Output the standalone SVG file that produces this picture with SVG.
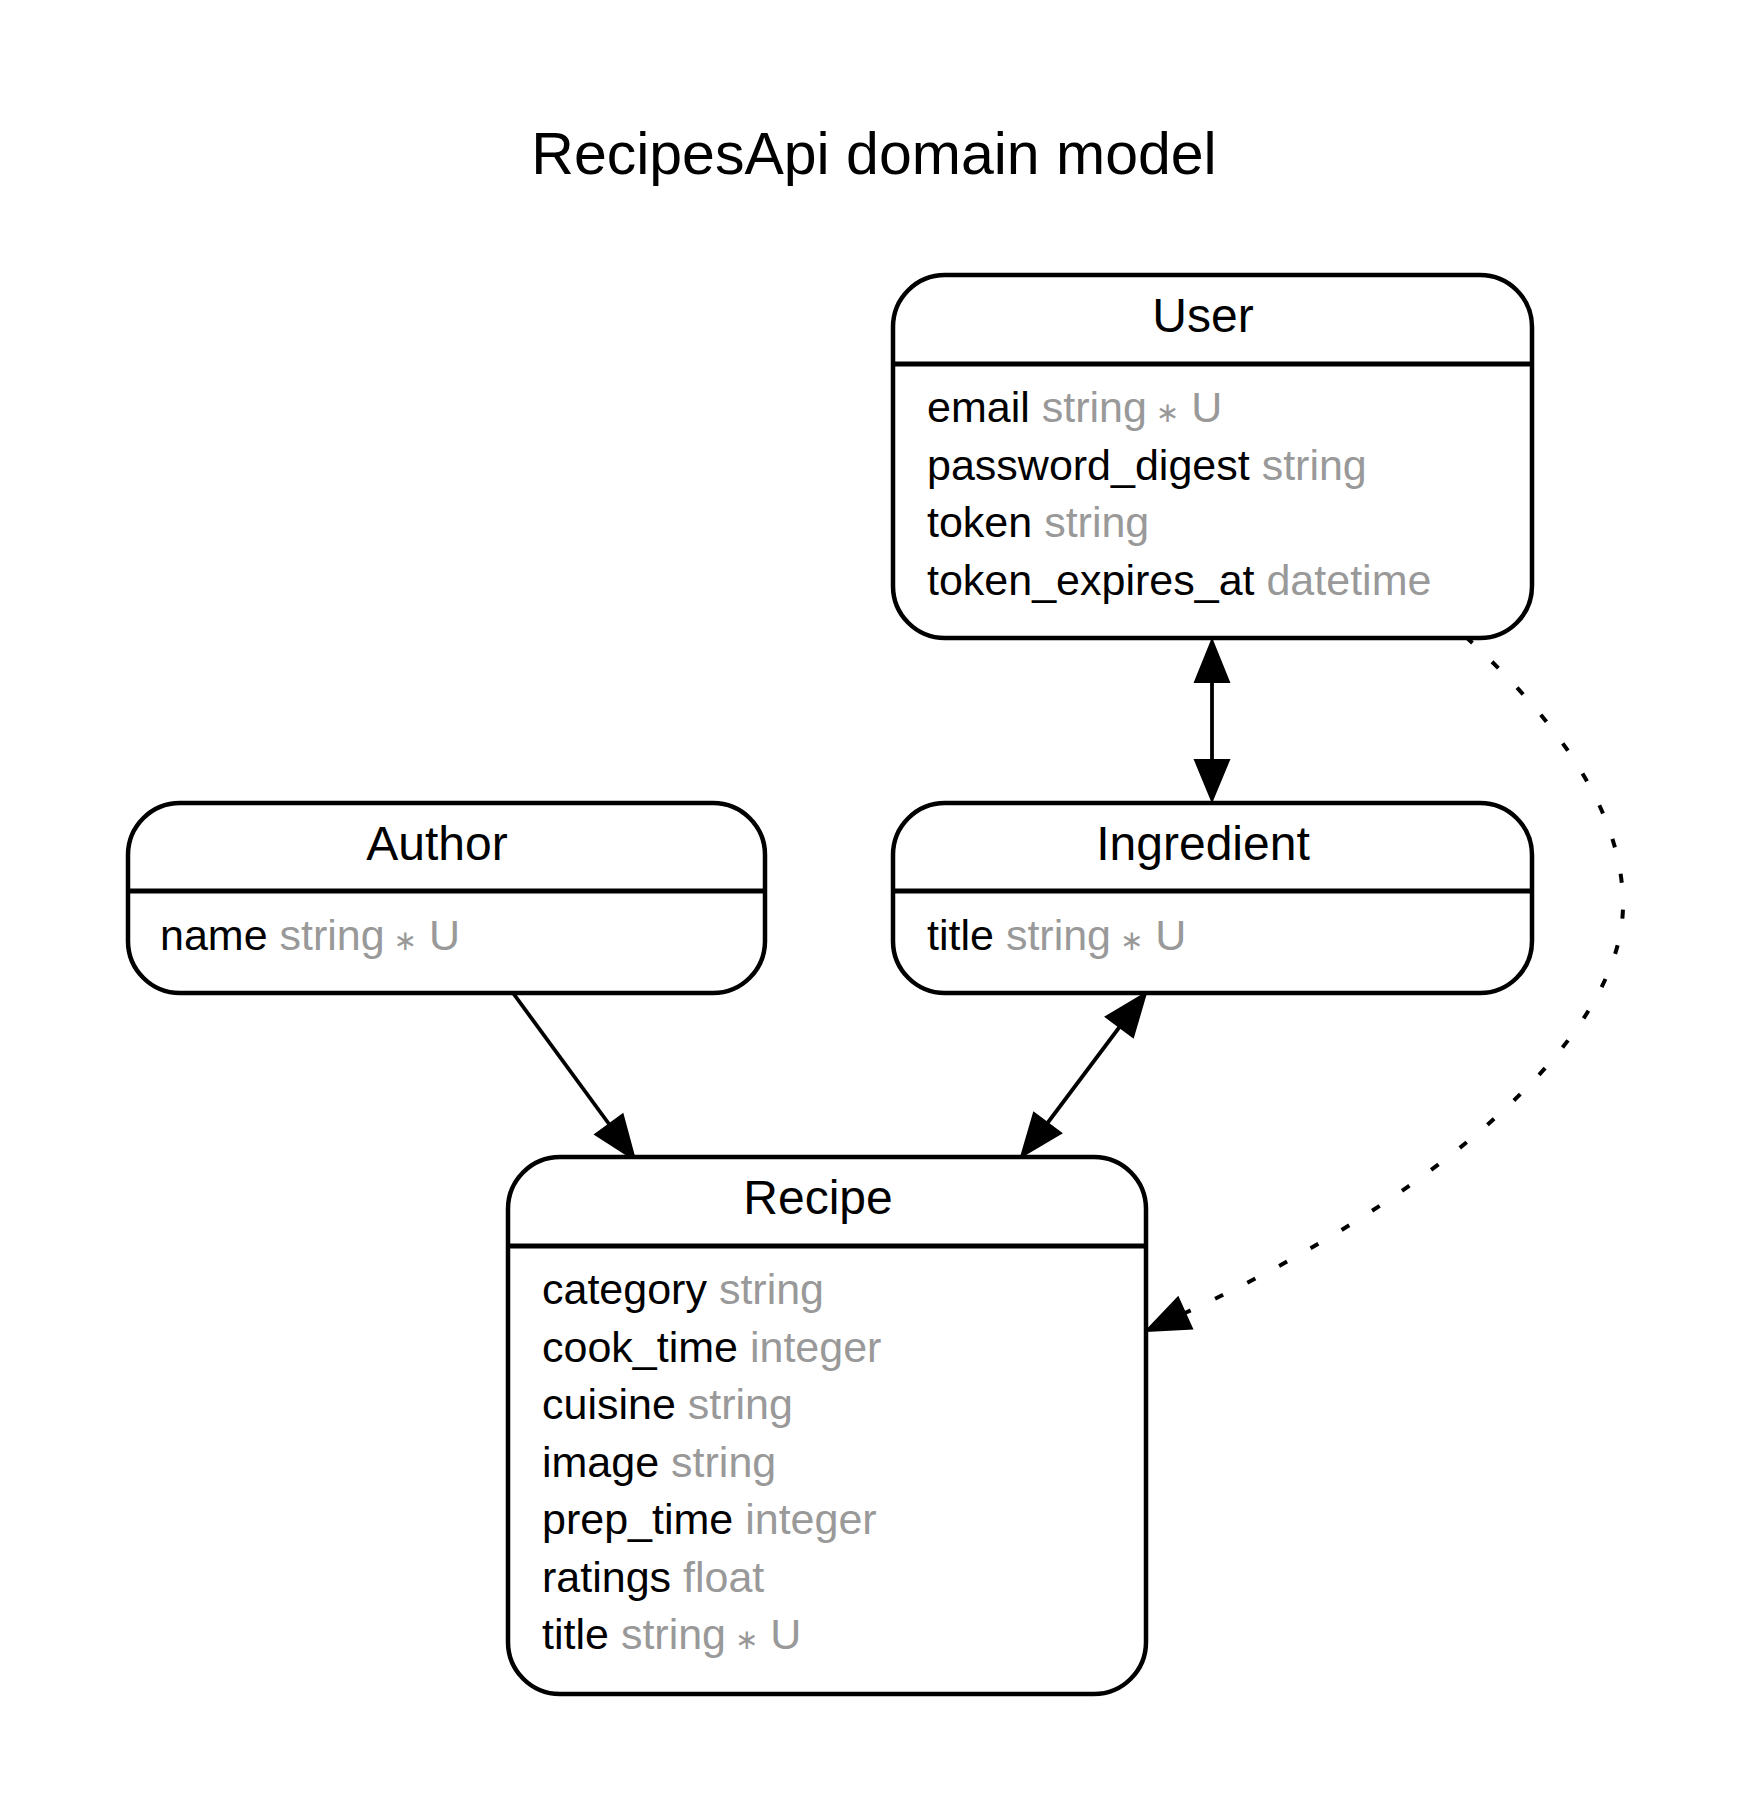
<svg xmlns="http://www.w3.org/2000/svg" width="1752" height="1814" viewBox="0 0 1752 1814">
<style>
text { font-family: "Liberation Sans", Arial, sans-serif; fill: #000; }
.title { font-size: 59px; text-anchor: middle; }
.hdr { font-size: 48px; text-anchor: middle; }
.attr { font-size: 43px; }
.t { fill: #999999; }
.ast { font-size: 28px; font-family: "DejaVu Sans", sans-serif; fill: #999999; }
.box { fill: #fff; stroke: #000; stroke-width: 4.5; }
.div { stroke: #000; stroke-width: 5; }
.edge { fill: none; stroke: #000; stroke-width: 3.8; }
.dot { fill: none; stroke: #000; stroke-width: 4; stroke-dasharray: 9 27; }
.head { fill: #000; stroke: #000; stroke-width: 2; stroke-linejoin: miter; }
</style>
<rect width="1752" height="1814" fill="#fff"/>
<text class="title" x="874" y="174">RecipesApi domain model</text>

<g id="connectors">
  <line class="edge" x1="1212" y1="682" x2="1212" y2="760"/>
  <polygon class="head" points="1212,640 1195,682 1229,682"/>
  <polygon class="head" points="1212,801 1195,760 1229,760"/>
  <line class="edge" x1="513" y1="993" x2="609" y2="1124"/>
  <polygon class="head" points="635,1160 622.7,1114.5 595.3,1134.5"/>
  <line class="edge" x1="1119.5" y1="1027" x2="1047.5" y2="1123"/>
  <polygon class="head" points="1146,993 1133.1,1037.2 1105.9,1016.8"/>
  <polygon class="head" points="1021,1157 1061.1,1133.2 1033.9,1112.8"/>
  <path class="dot" d="M1466,637 C1540,705 1623,800 1623,905 C1623,1040 1430,1200 1185,1313"/>
  <polygon class="head" points="1146,1331 1192,1328.5 1178,1297.5"/>
</g>

<g id="node-user">
  <rect class="box" x="893" y="275" width="639" height="363" rx="52" ry="52"/>
  <line class="div" x1="893" y1="364" x2="1532" y2="364"/>
  <text class="hdr" x="1203" y="332">User</text>
  <text class="attr" x="927" y="422">email <tspan class="t">string</tspan><tspan class="ast"> ∗</tspan><tspan class="t"> U</tspan></text>
  <text class="attr" x="927" y="479.5">password_digest <tspan class="t">string</tspan></text>
  <text class="attr" x="927" y="537">token <tspan class="t">string</tspan></text>
  <text class="attr" x="927" y="594.5">token_expires_at <tspan class="t">datetime</tspan></text>
</g>

<g id="node-author">
  <rect class="box" x="128" y="803" width="637" height="190" rx="52" ry="52"/>
  <line class="div" x1="128" y1="891" x2="765" y2="891"/>
  <text class="hdr" x="437" y="860">Author</text>
  <text class="attr" x="160" y="950">name <tspan class="t">string</tspan><tspan class="ast"> ∗</tspan><tspan class="t"> U</tspan></text>
</g>

<g id="node-ingredient">
  <rect class="box" x="893" y="803" width="639" height="190" rx="52" ry="52"/>
  <line class="div" x1="893" y1="891" x2="1532" y2="891"/>
  <text class="hdr" x="1203" y="860">Ingredient</text>
  <text class="attr" x="927" y="950">title <tspan class="t">string</tspan><tspan class="ast"> ∗</tspan><tspan class="t"> U</tspan></text>
</g>

<g id="node-recipe">
  <rect class="box" x="508" y="1157" width="638" height="537" rx="52" ry="52"/>
  <line class="div" x1="508" y1="1246" x2="1146" y2="1246"/>
  <text class="hdr" x="818" y="1214">Recipe</text>
  <text class="attr" x="542" y="1304">category <tspan class="t">string</tspan></text>
  <text class="attr" x="542" y="1361.5">cook_time <tspan class="t">integer</tspan></text>
  <text class="attr" x="542" y="1419">cuisine <tspan class="t">string</tspan></text>
  <text class="attr" x="542" y="1476.5">image <tspan class="t">string</tspan></text>
  <text class="attr" x="542" y="1534">prep_time <tspan class="t">integer</tspan></text>
  <text class="attr" x="542" y="1591.5">ratings <tspan class="t">float</tspan></text>
  <text class="attr" x="542" y="1649">title <tspan class="t">string</tspan><tspan class="ast"> ∗</tspan><tspan class="t"> U</tspan></text>
</g>
</svg>
